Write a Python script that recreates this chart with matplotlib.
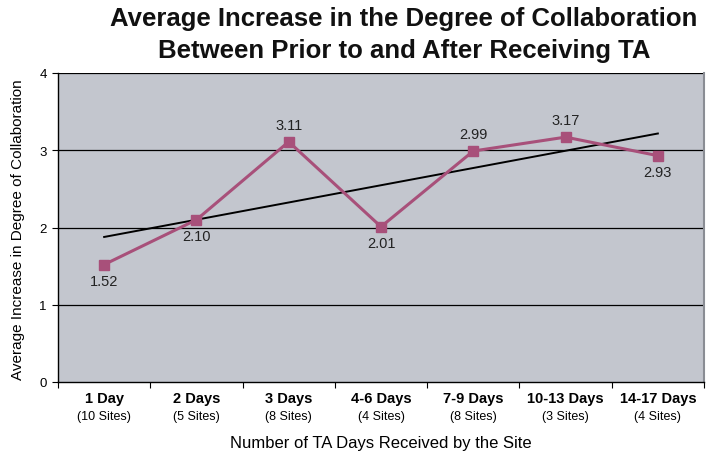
import numpy as np
import matplotlib
matplotlib.use("Agg")
from matplotlib import pyplot as plt

plt.rcParams['font.family'] = ['Liberation Sans', 'DejaVu Sans']

categories = ["1 Day", "2 Days", "3 Days", "4-6 Days", "7-9 Days", "10-13 Days", "14-17 Days"]
sites = ["(10 Sites)", "(5 Sites)", "(8 Sites)", "(4 Sites)", "(8 Sites)", "(3 Sites)", "(4 Sites)"]
values = [1.52, 2.10, 3.11, 2.01, 2.99, 3.17, 2.93]
label_above = [False, False, True, False, True, True, False]

line_color = "#a8507a"
x = np.arange(len(values))

fig = plt.figure(figsize=(7.14, 4.56), dpi=100)
ax = fig.add_axes([58 / 714, 1 - 383 / 456, 646 / 714, 309 / 456])
ax.set_facecolor("#c3c6ce")

# horizontal grid at each unit
for yv in [1, 2, 3, 4]:
    ax.axhline(yv, color="black", lw=0.9, zorder=1)

# linear trend through the averages
slope, intercept = np.polyfit(x, values, 1)
ax.plot(x, slope * x + intercept, color="black", lw=1.4, zorder=2)

ax.plot(x, values, color=line_color, lw=2.2, marker="s", markersize=7.5, zorder=3)

for xi, v, up in zip(x, values, label_above):
    if up:
        ax.annotate(f"{v:.2f}", (xi, v), xytext=(0, 7), textcoords="offset points",
                    ha="center", va="bottom", fontsize=10.5, color="#222222")
    else:
        ax.annotate(f"{v:.2f}", (xi, v), xytext=(0, -7), textcoords="offset points",
                    ha="center", va="top", fontsize=10.5, color="#222222")

ax.set_xlim(-0.5, len(values) - 0.5)
ax.set_ylim(0, 4)
ax.set_yticks([0, 1, 2, 3, 4])
ax.tick_params(axis="y", length=4, width=0.8, labelsize=9.5, pad=4)

# category names sit between tick marks drawn on the bin edges
ax.set_xticks(np.arange(-0.5, len(values), 1.0))
ax.set_xticklabels([])
ax.tick_params(axis="x", length=4, width=0.8, direction="out")
for xi, c, s in zip(x, categories, sites):
    ax.text(xi, -0.21, c, ha="center", va="center", fontsize=10.5, fontweight="bold",
            transform=ax.transData, clip_on=False)
    ax.text(xi, -0.44, s, ha="center", va="center", fontsize=9,
            transform=ax.transData, clip_on=False)

for side in ["left", "bottom"]:
    ax.spines[side].set_color("black")
    ax.spines[side].set_linewidth(1.0)
ax.spines["top"].set_visible(False)
ax.spines["right"].set_color("#8a8d94")
ax.spines["right"].set_linewidth(1.5)

fig.text(18 / 714, 1 - 230 / 456, "Average Increase in Degree of Collaboration",
         rotation=90, ha="center", va="center", fontsize=11)
fig.text((58 + 646 / 2) / 714, 1 - 444 / 456, "Number of TA Days Received by the Site",
         ha="center", va="center", fontsize=12)
fig.text(404 / 714, 1 - 35 / 456,
         "Average Increase in the Degree of Collaboration\nBetween Prior to and After Receiving TA",
         ha="center", va="center", fontsize=18.5, fontweight="bold", linespacing=1.45,
         color="#111111")

plt.savefig("out.png", dpi=100)
